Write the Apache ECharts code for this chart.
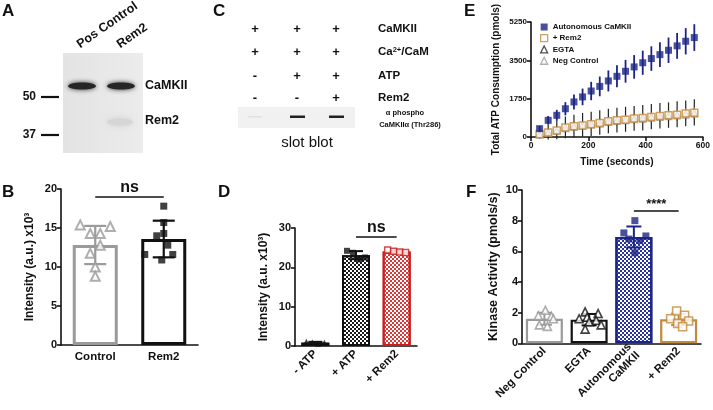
<!DOCTYPE html>
<html><head><meta charset="utf-8">
<script src="https://cdn.jsdelivr.net/npm/echarts@6.0.0/dist/echarts.min.js"></script>
<style>html,body{margin:0;padding:0;background:#fff}#c{width:713px;height:410px}</style>
</head><body><div id="c"></div>
<script>
// ================= DATA =================
// Panel B
const bCategories = ['Control', 'Rem2'];
const bControlPoints = [15.4, 15.2, 14.3, 14.3, 12.8, 11.75, 10.0, 8.8];
const bRem2Points = [17.8, 15.7, 14.3, 14.0, 12.8, 11.6, 11.6, 10.9];
const bTicks = [0, 5, 10, 15, 20];
// Panel D
const dCategories = ['- ATP', '+ ATP', '+ Rem2'];
const dNoAtpPoints = [1.1, 0.9, 0.6, 0.8];
const dAtpPoints = [24.2, 23.7, 22.0, 22.5];
const dRem2Points = [24.4, 24.1, 23.9, 23.8];
const dTicks = [0, 10, 20, 30];
// Panel E
const eTimes = [30, 60, 90, 120, 150, 180, 210, 240, 270, 300, 330, 360, 390, 420, 450, 480, 510, 540, 570];
const eAutoMean = [380, 760, 990, 1290, 1600, 1830, 2100, 2310, 2560, 2770, 3000, 3200, 3390, 3580, 3760, 3960, 4160, 4370, 4540];
const eAutoSd = [130, 200, 250, 300, 340, 380, 420, 450, 480, 500, 520, 540, 550, 560, 570, 580, 590, 600, 610];
const eRem2Mean = [120, 200, 300, 430, 490, 530, 580, 640, 720, 760, 790, 840, 870, 910, 960, 990, 1020, 1070, 1110];
const eRem2Sd = [60, 90, 110, 130, 140, 150, 160, 170, 180, 190, 195, 200, 205, 210, 215, 220, 225, 230, 240];
const eEgtaMean = [130, 220, 320, 440, 500, 560, 600, 660, 730, 770, 810, 850, 880, 930, 970, 1000, 1040, 1080, 1120];
const eEgtaSd = [200, 330, 420, 500, 520, 540, 550, 560, 560, 570, 570, 570, 580, 580, 580, 580, 590, 590, 600];
const eNegMean = [100, 180, 270, 380, 450, 500, 550, 600, 670, 710, 750, 790, 820, 860, 900, 930, 960, 1000, 1040];
const eNegSd = [60, 80, 100, 120, 130, 140, 150, 160, 170, 180, 185, 190, 195, 200, 205, 210, 215, 220, 225];
const eXTicks = [0, 200, 400, 600];
const eYTicks = [0, 1750, 3500, 5250];
// Panel F
const fCategories = ['Neg Control', 'EGTA', 'Autonomous\nCaMKII', '+ Rem2'];
const fNegPoints = [2.15, 1.8, 1.75, 1.6, 1.2, 1.1];
const fEgtaPoints = [2.05, 1.94, 1.7, 1.6, 1.5, 1.4, 1.2, 0.92];
const fAutoPoints = [8.0, 7.2, 7.0, 6.8, 6.7, 5.9];
const fRem2Points = [2.1, 1.83, 1.6, 1.45, 1.3, 1.08];
const fTicks = [0, 2, 4, 6, 8, 10];

// ================= LAYOUT / STYLE =================
const FONT = '"Liberation Sans", Arial, sans-serif';
const INK = '#111';
const GRAY = '#9a9a9a';
const NAVY = '#1c2585';
const ORANGE = '#c3893c';
const RED = '#c81e1e';
// horizontal scatter spread (px) for each group
const jitB0 = [-15, 15, -5, 5, 5, -5, 0, 0];
const jitB1 = [0, 0, 0, -7, 4, -19, 9, -2];
const jitD = [-9, -3, 3, 9];
const jitF6 = [1, -6, 7, 9, -5, 3];
const jitF8 = [-4, 9, -2, -10, 7, 0, 12, -4];
const jitFauto = [1, -10, 12, -5, 6, 1];
const jitFrem = [-2, 6, -8, 10, -1, 4];

function mean(a) { return a.reduce((s, v) => s + v, 0) / a.length; }
function sd(a) { const m = mean(a); return Math.sqrt(a.reduce((s, v) => s + (v - m) * (v - m), 0) / (a.length - 1)); }

const axisLine = { lineStyle: { color: INK, width: 1.6 } };
const axisTick = { length: 4, lineStyle: { color: INK, width: 1.6 } };
function label(size, extra) { return Object.assign({ color: INK, fontWeight: 'bold', fontFamily: FONT, fontSize: size }, extra || {}); }
const plain = v => String(v);

function errRender(capW, lw) {
  return function (params, api) {
    const x = api.value(0), lo = api.value(1), hi = api.value(2);
    const a = api.coord([x, lo]), b = api.coord([x, hi]);
    const c = api.visual('color');
    const h = capW / 2;
    const st = { stroke: c, lineWidth: lw };
    const ch = [{ type: 'line', shape: { x1: a[0], y1: a[1], x2: b[0], y2: b[1] }, style: st }];
    if (capW > 0) {
      ch.push({ type: 'line', shape: { x1: b[0] - h, y1: b[1], x2: b[0] + h, y2: b[1] }, style: st });
      ch.push({ type: 'line', shape: { x1: a[0] - h, y1: a[1], x2: a[0] + h, y2: a[1] }, style: st });
    }
    return { type: 'group', children: ch };
  };
}
function groupErr(groups, colors) {
  return groups.map((g, i) => ({ value: [i, mean(g) - sd(g), mean(g) + sd(g)], itemStyle: { color: colors[i] } }));
}
function pts(catIdx, values, jit) {
  return values.map((v, k) => ({ value: [catIdx, v], symbolOffset: [jit[k % jit.length], 0] }));
}
function checker(color) {
  return { symbol: 'rect', symbolSize: 1, color: color, dashArrayX: [[2, 2], [0, 2, 2, 0]], dashArrayY: [2, 0], rotation: 0 };
}

const catX = (gi, cats, size, rot) => ({
  type: 'category', gridIndex: gi, data: cats,
  axisLine, axisTick: Object.assign({ alignWithLabel: true }, axisTick),
  axisLabel: label(size, { rotate: rot || 0, margin: 6, interval: 0 }),
  splitLine: { show: false }
});
const valY = (gi, ticks, size, name, gap, nsize) => ({
  type: 'value', gridIndex: gi, min: ticks[0], max: ticks[ticks.length - 1], interval: ticks[1] - ticks[0],
  axisLine: Object.assign({ show: true }, axisLine), axisTick: Object.assign({ show: true }, axisTick),
  axisLabel: label(size, { margin: 4, formatter: plain }), splitLine: { show: false },
  name: name, nameLocation: 'middle', nameGap: gap, nameTextStyle: label(nsize)
});

// ================= SERIES =================
const series = [];
// ---- B ----
series.push({
  type: 'bar', xAxisIndex: 0, yAxisIndex: 0, barWidth: 45,
  data: [
    { value: mean(bControlPoints), itemStyle: { color: '#fff', borderColor: GRAY, borderWidth: 3 } },
    { value: mean(bRem2Points), itemStyle: { color: '#fff', borderColor: INK, borderWidth: 3 } }
  ],
  markLine: {
    silent: true, symbol: ['none', 'none'],
    lineStyle: { color: INK, width: 1.5, type: 'solid' },
    label: { show: true, position: 'middle', formatter: 'ns', color: INK, fontWeight: 'bold', fontSize: 16, fontFamily: FONT, distance: 1 },
    data: [[{ coord: ['Control', 19.0] }, { coord: ['Rem2', 19.0] }]]
  }
});
series.push({ type: 'custom', xAxisIndex: 0, yAxisIndex: 0, renderItem: errRender(22, 2.2), encode: { x: 0, y: [1, 2] }, z: 3,
  data: groupErr([bControlPoints, bRem2Points], [GRAY, INK]) });
series.push({ type: 'scatter', xAxisIndex: 0, yAxisIndex: 0, symbol: 'triangle', symbolSize: 9, z: 4,
  itemStyle: { color: '#fff', borderColor: GRAY, borderWidth: 2 }, data: pts(0, bControlPoints, jitB0) });
series.push({ type: 'scatter', xAxisIndex: 0, yAxisIndex: 0, symbol: 'rect', symbolSize: 7, z: 4,
  itemStyle: { color: INK }, data: pts(1, bRem2Points, jitB1) });

// ---- D ----
series.push({
  type: 'bar', xAxisIndex: 1, yAxisIndex: 1, barWidth: 28,
  data: [
    { value: mean(dNoAtpPoints), itemStyle: { color: '#fff', borderColor: INK, borderWidth: 2, decal: checker('#1a1a1a') } },
    { value: mean(dAtpPoints), itemStyle: { color: '#fff', borderColor: INK, borderWidth: 2, decal: checker('#1a1a1a') } },
    { value: mean(dRem2Points), itemStyle: { color: '#fff', borderColor: RED, borderWidth: 2, decal: checker('#d83a3a') } }
  ],
  markLine: {
    silent: true, symbol: ['none', 'none'],
    lineStyle: { color: INK, width: 1.5, type: 'solid' },
    label: { show: true, position: 'middle', formatter: 'ns', color: INK, fontWeight: 'bold', fontSize: 16, fontFamily: FONT, distance: 1 },
    data: [[{ coord: ['+ ATP', 27.7] }, { coord: ['+ Rem2', 27.7] }]]
  }
});
series.push({ type: 'custom', xAxisIndex: 1, yAxisIndex: 1, renderItem: errRender(14, 2), encode: { x: 0, y: [1, 2] }, z: 3,
  data: groupErr([dNoAtpPoints, dAtpPoints, dRem2Points], [INK, INK, RED]) });
series.push({ type: 'scatter', xAxisIndex: 1, yAxisIndex: 1, symbol: 'triangle', symbolSize: 6, z: 4,
  itemStyle: { color: INK }, data: pts(0, dNoAtpPoints, jitD) });
series.push({ type: 'scatter', xAxisIndex: 1, yAxisIndex: 1, symbol: 'rect', symbolSize: 6, z: 4,
  itemStyle: { color: INK }, data: pts(1, dAtpPoints, jitD) });
series.push({ type: 'scatter', xAxisIndex: 1, yAxisIndex: 1, symbol: 'rect', symbolSize: 6, z: 4,
  itemStyle: { color: '#fff', borderColor: RED, borderWidth: 1.5 }, data: pts(2, dRem2Points, jitD) });

// ---- E ----
function eErr(means, sds) { return eTimes.map((t, i) => [t, means[i] - sds[i], means[i] + sds[i]]); }
function ePts(means) { return eTimes.map((t, i) => [t, means[i]]); }
series.push({ type: 'custom', xAxisIndex: 2, yAxisIndex: 2, renderItem: errRender(0, 1.2), encode: { x: 0, y: [1, 2] },
  itemStyle: { color: GRAY }, data: eErr(eNegMean, eNegSd), z: 2 });
series.push({ name: 'Neg Control', type: 'scatter', xAxisIndex: 2, yAxisIndex: 2, symbol: 'triangle', symbolSize: 6, z: 3,
  itemStyle: { color: '#fff', borderColor: GRAY, borderWidth: 1.2 }, data: ePts(eNegMean) });
series.push({ type: 'custom', xAxisIndex: 2, yAxisIndex: 2, renderItem: errRender(0, 1.2), encode: { x: 0, y: [1, 2] },
  itemStyle: { color: '#222' }, data: eErr(eEgtaMean, eEgtaSd), z: 4 });
series.push({ name: 'EGTA', type: 'scatter', xAxisIndex: 2, yAxisIndex: 2, symbol: 'triangle', symbolSize: 6, z: 5,
  itemStyle: { color: '#fff', borderColor: '#222', borderWidth: 1.2 }, data: ePts(eEgtaMean) });
series.push({ type: 'custom', xAxisIndex: 2, yAxisIndex: 2, renderItem: errRender(0, 1.5), encode: { x: 0, y: [1, 2] },
  itemStyle: { color: ORANGE }, data: eErr(eRem2Mean, eRem2Sd), z: 6 });
series.push({ name: '+ Rem2', type: 'scatter', xAxisIndex: 2, yAxisIndex: 2, symbol: 'rect', symbolSize: 7, z: 7,
  itemStyle: { color: '#fff', borderColor: ORANGE, borderWidth: 1.5 }, data: ePts(eRem2Mean) });
series.push({ type: 'custom', xAxisIndex: 2, yAxisIndex: 2, renderItem: errRender(0, 1.8), encode: { x: 0, y: [1, 2] },
  itemStyle: { color: NAVY }, data: eErr(eAutoMean, eAutoSd), z: 8 });
series.push({ name: 'Autonomous CaMKII', type: 'scatter', xAxisIndex: 2, yAxisIndex: 2, symbol: 'rect', symbolSize: 7, z: 9,
  itemStyle: { color: NAVY }, data: ePts(eAutoMean) });

// ---- F ----
series.push({
  type: 'bar', xAxisIndex: 3, yAxisIndex: 3, barWidth: 37,
  data: [
    { value: mean(fNegPoints), itemStyle: { color: '#fff', borderColor: GRAY, borderWidth: 2.2 } },
    { value: mean(fEgtaPoints), itemStyle: { color: '#fff', borderColor: INK, borderWidth: 2.2 } },
    { value: mean(fAutoPoints), itemStyle: { color: '#fff', borderColor: NAVY, borderWidth: 2.2, decal: checker('#2a34a0') } },
    { value: mean(fRem2Points), itemStyle: { color: '#fff', borderColor: ORANGE, borderWidth: 2.2 } }
  ],
  markLine: {
    silent: true, symbol: ['none', 'none'],
    lineStyle: { color: INK, width: 1.5, type: 'solid' },
    label: { show: true, position: 'middle', formatter: '****', color: INK, fontWeight: 'bold', fontSize: 13, fontFamily: FONT, distance: 0 },
    data: [[{ coord: ['Autonomous\nCaMKII', 8.65] }, { coord: ['+ Rem2', 8.65] }]]
  }
});
series.push({ type: 'custom', xAxisIndex: 3, yAxisIndex: 3, renderItem: errRender(15, 2), encode: { x: 0, y: [1, 2] }, z: 3,
  data: groupErr([fNegPoints, fEgtaPoints, fAutoPoints, fRem2Points], [GRAY, INK, NAVY, ORANGE]) });
series.push({ type: 'scatter', xAxisIndex: 3, yAxisIndex: 3, symbol: 'triangle', symbolSize: 8, z: 4,
  itemStyle: { color: '#fff', borderColor: GRAY, borderWidth: 1.6 }, data: pts(0, fNegPoints, jitF6) });
series.push({ type: 'scatter', xAxisIndex: 3, yAxisIndex: 3, symbol: 'triangle', symbolSize: 8, z: 4,
  itemStyle: { color: '#fff', borderColor: INK, borderWidth: 1.6 }, data: pts(1, fEgtaPoints, jitF8) });
series.push({ type: 'scatter', xAxisIndex: 3, yAxisIndex: 3, symbol: 'rect', symbolSize: 7, z: 4,
  itemStyle: { color: NAVY }, data: pts(2, fAutoPoints, jitFauto) });
series.push({ type: 'scatter', xAxisIndex: 3, yAxisIndex: 3, symbol: 'rect', symbolSize: 8, z: 4,
  itemStyle: { color: '#fff', borderColor: ORANGE, borderWidth: 1.6 }, data: pts(3, fRem2Points, jitFrem) });

// ================= GRAPHICS (blots, panel letters) =================
const g = [];
function txt(t, x, y, size, opts) {
  g.push(Object.assign({ type: 'text', x: x, y: y, style: Object.assign({ text: t, fill: INK, fontSize: size, fontWeight: 'bold', fontFamily: FONT, textAlign: 'left', textVerticalAlign: 'middle' }, (opts && opts.style) || {}) }, (opts && opts.el) || {}));
}
[['A', 2, 11], ['B', 2, 192], ['C', 213, 11], ['D', 218, 192], ['E', 464, 11], ['F', 466, 192]].forEach(l => txt(l[0], l[1], l[2], 17));
// Panel A western blot
g.push({ type: 'rect', shape: { x: 63, y: 53, width: 80, height: 100 },
  style: { fill: new echarts.graphic.LinearGradient(0, 0, 1, 0, [{ offset: 0, color: '#e3e3e3' }, { offset: 1, color: '#ececec' }]) } });
[[82, 86], [121, 86]].forEach(p => g.push({ type: 'ellipse', shape: { cx: p[0], cy: p[1], rx: 14, ry: 3.6 },
  style: { fill: '#262626', shadowBlur: 5, shadowColor: '#333' } }));
g.push({ type: 'ellipse', shape: { cx: 120, cy: 122, rx: 13, ry: 3.5 }, style: { fill: '#d6d6d6', shadowBlur: 6, shadowColor: '#d0d0d0' } });
txt('50', 36, 97, 12, { style: { textAlign: 'right' } });
txt('37', 36, 135, 12, { style: { textAlign: 'right' } });
g.push({ type: 'line', shape: { x1: 41, y1: 97, x2: 59, y2: 97 }, style: { stroke: INK, lineWidth: 2.2 } });
g.push({ type: 'line', shape: { x1: 41, y1: 135, x2: 59, y2: 135 }, style: { stroke: INK, lineWidth: 2.2 } });
txt('CaMKII', 145, 86, 12.5);
txt('Rem2', 145, 121, 12.5);
txt('Pos Control', 82, 51, 12.5, { style: { textVerticalAlign: 'bottom' }, el: { rotation: 35 * Math.PI / 180 } });
txt('Rem2', 122, 51, 12.5, { style: { textVerticalAlign: 'bottom' }, el: { rotation: 35 * Math.PI / 180 } });
// Panel C slot blot table
const cCols = [255, 297, 336];
const cRows = [29, 52, 76, 98];
const cSigns = [['+', '+', '+'], ['+', '+', '+'], ['-', '+', '+'], ['-', '-', '+']];
cSigns.forEach((row, r) => row.forEach((s, c) => txt(s, cCols[c], cRows[r], 13, { style: { textAlign: 'center' } })));
txt('CaMKII', 378, 29, 11.5);
g.push({ type: 'text', x: 378, y: 52, style: { text: '{a|Ca}{s|2+}{a|/CaM}', textVerticalAlign: 'middle', fill: INK,
  rich: { a: { fontSize: 11.5, fontWeight: 'bold', fontFamily: FONT, fill: INK, verticalAlign: 'bottom' },
          s: { fontSize: 7.5, fontWeight: 'bold', fontFamily: FONT, fill: INK, verticalAlign: 'top' } } } });
txt('ATP', 378, 76, 11.5);
txt('Rem2', 378, 98, 11.5);
g.push({ type: 'rect', shape: { x: 238, y: 107, width: 117, height: 21 }, style: { fill: '#f1f1f1' } });
g.push({ type: 'rect', shape: { x: 248, y: 116, width: 14, height: 1.5 }, style: { fill: '#e0e0e0' } });
g.push({ type: 'rect', shape: { x: 290, y: 115.5, width: 15, height: 2.5 }, style: { fill: '#222' } });
g.push({ type: 'rect', shape: { x: 329, y: 115.5, width: 15, height: 2.5 }, style: { fill: '#222' } });
txt('\u03b1 phospho', 405, 113, 7.5, { style: { textAlign: 'center' } });
txt('CaMKII\u03b1 (Thr286)', 410, 125, 7.5, { style: { textAlign: 'center' } });
txt('slot blot', 307, 143, 15, { style: { textAlign: 'center', fontWeight: 'normal' } });

// ================= OPTION =================
const option = {
  animation: false,
  backgroundColor: '#fff',
  textStyle: { fontFamily: FONT },
  grid: [
    { left: 61, width: 137, top: 189, height: 156 },
    { left: 295, width: 122, top: 228, height: 118 },
    { left: 531, width: 175, top: 22, height: 115 },
    { left: 522, width: 179, top: 190, height: 155 }
  ],
  legend: {
    orient: 'vertical', left: 535, top: 18, itemWidth: 7, itemHeight: 7, itemGap: 3,
    textStyle: label(8),
    data: [
      { name: 'Autonomous CaMKII', icon: 'rect', itemStyle: { color: NAVY, borderWidth: 0 } },
      { name: '+ Rem2', icon: 'rect', itemStyle: { color: '#fff', borderColor: ORANGE, borderWidth: 1.3 } },
      { name: 'EGTA', icon: 'triangle', itemStyle: { color: '#fff', borderColor: '#222', borderWidth: 1.3 } },
      { name: 'Neg Control', icon: 'triangle', itemStyle: { color: '#fff', borderColor: GRAY, borderWidth: 1.3 } }
    ]
  },
  xAxis: [
    catX(0, bCategories, 11.5, 0),
    catX(1, dCategories, 11.5, 45),
    { type: 'value', gridIndex: 2, min: eXTicks[0], max: eXTicks[eXTicks.length - 1], interval: eXTicks[1] - eXTicks[0],
      axisLine, axisTick, axisLabel: label(8.5, { margin: 4, formatter: plain }), splitLine: { show: false },
      name: 'Time (seconds)', nameLocation: 'middle', nameGap: 20, nameTextStyle: label(10) },
    catX(3, fCategories, 11.5, 45)
  ],
  yAxis: [
    valY(0, bTicks, 11, 'Intensity (a.u.) x10\u00b3', 25, 12),
    valY(1, dTicks, 11, 'Intensity (a.u. x10\u00b3)', 25, 12),
    valY(2, eYTicks, 8, 'Total ATP Consumption (pmols)', 30, 10),
    valY(3, fTicks, 11, 'Kinase Activity (pmols/s)', 22, 12.5)
  ],
  series: series,
  graphic: { elements: g }
};
const chart = echarts.init(document.getElementById('c'), null, { renderer: 'canvas' });
chart.setOption(option);
</script></body></html>
